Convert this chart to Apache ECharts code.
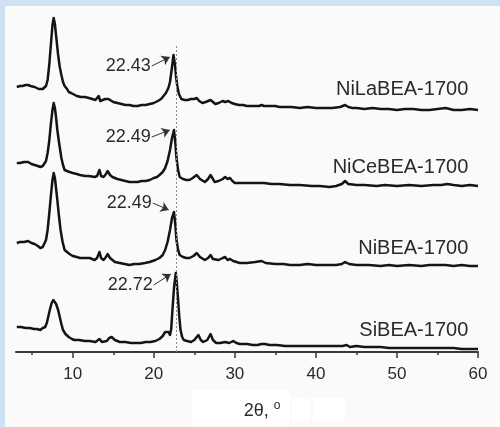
<!DOCTYPE html>
<html>
<head>
<meta charset="utf-8">
<script src="https://cdn.jsdelivr.net/npm/echarts@6/dist/echarts.min.js"></script>
<style>
  html, body { margin: 0; padding: 0; background: #fafaf8; }
  #chart { width: 500px; height: 427px; }
</style>
</head>
<body>
<div id="chart"></div>
<script>
// XRD patterns of the BEA samples (2θ in degrees, intensity in a.u.)
const sampleNames = ['NiLaBEA-1700', 'NiCeBEA-1700', 'NiBEA-1700', 'SiBEA-1700'];
// vertical stacking offsets of each pattern (a.u.)
const stackOffsets = [242, 166, 86, 3];

const niLaBEA = [[3.1,23],[3.5,24],[3.8,24],[4.2,25],[4.5,25],[4.8,24],[5.0,24],[5.3,23],[5.5,22],[5.8,21],[6.0,20],[6.3,21],[6.5,21],[6.7,24],[6.9,30],[7.1,45],[7.3,65],[7.5,85],[7.65,92],[7.8,86],[7.95,74],[8.2,55],[8.4,43],[8.6,35],[8.8,28],[9.0,24],[9.3,21],[9.5,18],[9.8,17],[10.0,15],[10.5,14],[11.0,13],[11.5,13],[12.0,12],[12.4,11],[12.8,10],[13.0,11],[13.2,14],[13.4,9],[13.7,10],[14.0,11],[14.2,13],[14.4,11],[14.6,10],[15.0,8],[15.5,7],[16.0,6],[16.5,5],[17.0,5],[17.5,4],[18.0,4],[18.5,5],[19.0,5],[19.5,6],[20.0,7],[20.5,9],[20.9,11],[21.2,14],[21.5,17],[21.8,22],[22.0,28],[22.2,40],[22.43,55],[22.6,46],[22.75,33],[22.9,24],[23.1,16],[23.4,11],[23.8,10],[24.2,10],[24.6,11],[25.0,11],[25.3,12],[25.6,9],[26.0,7],[26.4,8],[26.7,9],[27.0,10],[27.3,8],[27.6,6],[28.0,7],[28.5,9],[28.8,8],[29.2,9],[29.4,8],[29.6,7],[30.0,6],[30.5,5],[31.0,5],[31.5,4],[32.0,4],[32.5,4],[33.0,4],[33.3,5],[33.6,4],[34.0,4],[35.0,4],[35.5,3],[36.0,3],[37.0,3],[38.0,2],[39.0,3],[40.0,2],[41.0,2],[42.0,2],[43.0,3],[43.6,5],[44.0,3],[44.5,2],[45.0,2],[46.0,1],[47.0,2],[48.0,1],[49.0,1],[50.0,0],[51.0,1],[52.0,1],[53.0,0],[54.0,0],[55.0,1],[56.0,2],[56.5,1],[57.0,0],[58.0,0],[59.0,1],[60.0,0]];

const niCeBEA = [[3.1,23],[3.5,23],[4.0,24],[4.5,24],[4.9,22],[5.3,21],[5.7,20],[6.0,19],[6.3,20],[6.5,21],[6.7,25],[6.9,33],[7.1,45],[7.3,62],[7.5,76],[7.65,83],[7.8,78],[7.95,68],[8.1,56],[8.3,44],[8.6,28],[8.8,21],[9.0,16],[9.3,15],[9.6,14],[10.0,13],[10.5,12],[10.9,11],[11.5,10],[12.0,10],[12.7,9],[13.0,10],[13.3,16],[13.5,10],[13.8,9],[14.1,12],[14.3,15],[14.6,11],[14.9,9],[15.5,7],[16.0,6],[16.5,5],[17.0,4],[17.5,4],[18.0,4],[18.5,5],[19.0,5],[19.5,6],[20.0,8],[20.4,9],[20.7,11],[21.1,14],[21.4,18],[21.7,25],[22.0,36],[22.25,48],[22.49,56],[22.65,44],[22.8,28],[23.0,16],[23.2,9],[23.6,7],[24.0,6],[24.4,6],[24.8,8],[25.3,11],[25.7,7],[26.3,4],[26.7,7],[27.0,11],[27.3,7],[27.5,4],[28.0,5],[28.5,7],[28.8,9],[29.1,7],[29.4,8],[29.7,5],[30.0,3],[31.0,3],[32.0,3],[33.1,3],[33.3,4],[33.6,3],[34.5,2],[35.5,2],[36.8,1],[38.0,1],[39.5,0],[40.5,0],[41.7,-1],[42.5,0],[43.2,2],[43.6,5],[44.0,2],[45.0,1],[46.0,1],[47.5,0],[48.5,1],[50.0,0],[51.5,1],[53.0,0],[54.5,1],[55.5,1],[56.2,2],[57.0,1],[58.0,0],[59.0,1],[60.0,0]];

const niBEA = [[3.1,23],[3.5,24],[4.0,24],[4.5,25],[4.9,23],[5.3,22],[5.7,20],[6.0,18],[6.3,19],[6.5,20],[6.7,26],[6.9,36],[7.1,52],[7.3,70],[7.5,86],[7.65,93],[7.8,88],[7.95,77],[8.1,66],[8.3,50],[8.5,36],[8.75,24],[9.0,16],[9.3,14],[9.6,12],[10.0,10],[10.5,9],[10.9,8],[11.5,8],[12.1,8],[12.7,6],[13.0,8],[13.3,14],[13.5,8],[13.8,6],[14.1,9],[14.3,12],[14.6,8],[15.2,4],[15.8,3],[16.4,2],[17.0,1],[17.6,2],[18.2,2],[18.9,3],[19.5,4],[20.2,6],[20.7,8],[21.1,11],[21.4,16],[21.7,24],[22.0,36],[22.25,48],[22.49,54],[22.65,42],[22.8,26],[23.0,16],[23.2,11],[23.6,9],[24.0,8],[24.4,8],[24.9,10],[25.3,13],[25.7,9],[26.3,6],[26.7,8],[27.0,11],[27.3,7],[27.5,5],[28.0,6],[28.5,8],[28.8,9],[29.1,6],[29.4,7],[29.8,5],[30.6,3],[31.5,3],[32.5,4],[33.3,5],[33.8,3],[35.0,2],[36.0,2],[36.8,1],[38.0,1],[39.0,2],[40.0,1],[41.0,1],[41.7,1],[42.5,1],[43.2,2],[43.6,4],[44.1,2],[45.0,1],[46.5,1],[48.0,0],[49.0,1],[50.0,0],[51.5,1],[53.0,0],[54.0,1],[55.0,1],[56.0,1],[57.0,0],[58.0,1],[59.0,0],[60.0,0]];

const siBEA = [[3.1,22],[3.6,22],[4.2,21],[4.7,21],[5.2,20],[5.6,20],[6.0,19],[6.3,21],[6.6,22],[6.8,26],[7.0,33],[7.2,40],[7.4,46],[7.6,49],[7.78,49],[7.95,45],[8.2,39],[8.4,32],[8.6,25],[8.8,19],[9.1,15],[9.5,12],[9.9,10],[10.2,9],[10.8,9],[11.5,8],[12.1,8],[12.8,7],[13.3,10],[13.6,7],[13.8,6],[14.2,8],[14.5,11],[14.8,12],[15.2,9],[15.8,7],[16.5,7],[17.2,6],[17.8,6],[18.4,6],[19.0,7],[19.6,7],[20.2,8],[20.7,10],[21.1,13],[21.4,17],[21.6,19],[21.8,17],[22.0,14],[22.15,20],[22.3,39],[22.5,62],[22.72,76],[22.85,65],[23.0,49],[23.15,32],[23.3,19],[23.5,12],[23.7,9],[24.1,8],[24.6,7],[25.0,9],[25.5,14],[25.8,9],[26.1,7],[26.6,9],[27.0,15],[27.3,9],[27.7,6],[28.2,6],[28.8,7],[29.3,6],[29.8,8],[30.2,6],[30.6,5],[31.5,5],[32.2,4],[32.8,4],[33.3,5],[33.7,5],[34.3,4],[35.2,4],[36.2,3],[37.4,3],[38.5,3],[39.5,3],[40.5,3],[41.5,3],[42.5,3],[43.3,3],[43.8,4],[44.2,2],[45.0,3],[46.0,2],[47.0,2],[48.0,2],[49.0,1],[50.3,1],[51.5,1],[52.5,1],[53.5,1],[55.0,1],[56.0,1],[57.0,1],[58.0,0],[59.0,0],[60.0,0]];

const patterns = [niLaBEA, niCeBEA, niBEA, siBEA];

// main reflection of each pattern, as labelled
const peakLabels = ['22.43', '22.49', '22.49', '22.72'];
// leader arrows: [start 2θ, start y, end 2θ, end y] in stacked units
const peakArrows = [
  [19.75, 286, 21.98, 295],
  [19.75, 215, 21.98, 222],
  [19.88, 149, 21.85, 142],
  [20.0, 67, 22.1, 78]
];
// sample name anchors (right edge 2θ, stacked y)
const nameAnchors = [[58.8, 263], [58.8, 185], [58.8, 104], [58.8, 22]];
// reference line through the SiBEA reflection
const refLine = { x: 22.72, top: 307 };

const majorTicks = [10, 20, 30, 40, 50, 60];
const minorTicks = [5, 15, 25, 35, 45, 55];

const FONT = '"Liberation Sans", Arial, sans-serif';
const INK = '#141414';
const TEXT = '#2a2a2a';

const chart = echarts.init(document.getElementById('chart'), null, { renderer: 'canvas' });

const series = patterns.map((pts, i) => {
  const a = peakArrows[i];
  const s = {
    type: 'line',
    name: sampleNames[i],
    data: pts.map(p => [p[0], p[1] + stackOffsets[i]]),
    showSymbol: false,
    symbol: 'none',
    smooth: false,
    lineStyle: { color: INK, width: 2.5, join: 'round' },
    z: 3,
    markPoint: {
      silent: true,
      symbol: 'circle',
      symbolSize: 0,
      data: [
        {
          coord: nameAnchors[i],
          label: { show: true, position: 'left', distance: 0, formatter: sampleNames[i],
                   color: TEXT, fontSize: 20, fontFamily: FONT }
        },
        {
          coord: [a[0], a[1]],
          label: { show: true, position: 'left', distance: 1, formatter: peakLabels[i],
                   color: TEXT, fontSize: 18, fontFamily: FONT }
        }
      ]
    },
    markLine: {
      silent: true,
      animation: false,
      symbol: ['none', 'arrow'],
      symbolSize: 8,
      label: { show: false },
      lineStyle: { color: '#333333', width: 1, type: 'solid' },
      data: [[{ coord: [a[0], a[1]], symbol: 'none' }, { coord: [a[2], a[3]], symbol: 'arrow', symbolSize: 8 }]]
    }
  };
  if (i === patterns.length - 1) {
    s.markLine.data.push([
      { coord: [refLine.x, 0], symbol: 'none', lineStyle: { color: '#8a8a8a', width: 1, type: [2, 2] } },
      { coord: [refLine.x, refLine.top], symbol: 'none' }
    ]);
  }
  return s;
});

const option = {
  animation: false,
  backgroundColor: '#fafaf8',
  graphic: [
    { type: 'rect', shape: { x: 0, y: 0, width: 500, height: 6 }, style: { fill: '#cfe2f4' }, z: -10 },
    { type: 'rect', shape: { x: 0, y: 0, width: 5, height: 427 }, style: { fill: '#cfe2f4' }, z: -10 },
    { type: 'rect', shape: { x: 192, y: 390, width: 98, height: 37 }, style: { fill: '#ffffff' }, z: -5 },
    { type: 'rect', shape: { x: 292, y: 398, width: 18, height: 24 }, style: { fill: '#ffffff' }, z: -5 },
    { type: 'rect', shape: { x: 313, y: 398, width: 32, height: 24 }, style: { fill: '#ffffff' }, z: -5 }
  ],
  grid: { left: 16, right: 22, top: 6, bottom: 75, containLabel: false },
  xAxis: [
    {
      type: 'value', min: 3, max: 60, position: 'bottom',
      name: '2θ, {sup|o}',
      nameLocation: 'middle',
      nameGap: 48,
      nameTextStyle: {
        color: TEXT, fontSize: 18, fontFamily: FONT, padding: [0, 0, 0, 30],
        rich: { sup: { fontSize: 12, color: TEXT, fontFamily: FONT, padding: [0, 0, 10, 0] } }
      },
      axisLine: { show: true, lineStyle: { color: '#383838', width: 2 } },
      axisTick: { show: true, customValues: majorTicks, length: 6, lineStyle: { color: '#383838', width: 1.5 } },
      axisLabel: { show: true, customValues: majorTicks, color: TEXT, fontSize: 17, fontFamily: FONT, margin: 14 },
      splitLine: { show: false }
    },
    {
      type: 'value', min: 3, max: 60, position: 'bottom', offset: 0,
      axisLine: { show: false },
      axisTick: { show: true, customValues: minorTicks, length: 3, lineStyle: { color: '#383838', width: 1.5 } },
      axisLabel: { show: false },
      splitLine: { show: false }
    }
  ],
  yAxis: { type: 'value', min: 0, max: 346, show: false, splitLine: { show: false } },
  series: series
};

chart.setOption(option);
</script>
</body>
</html>
